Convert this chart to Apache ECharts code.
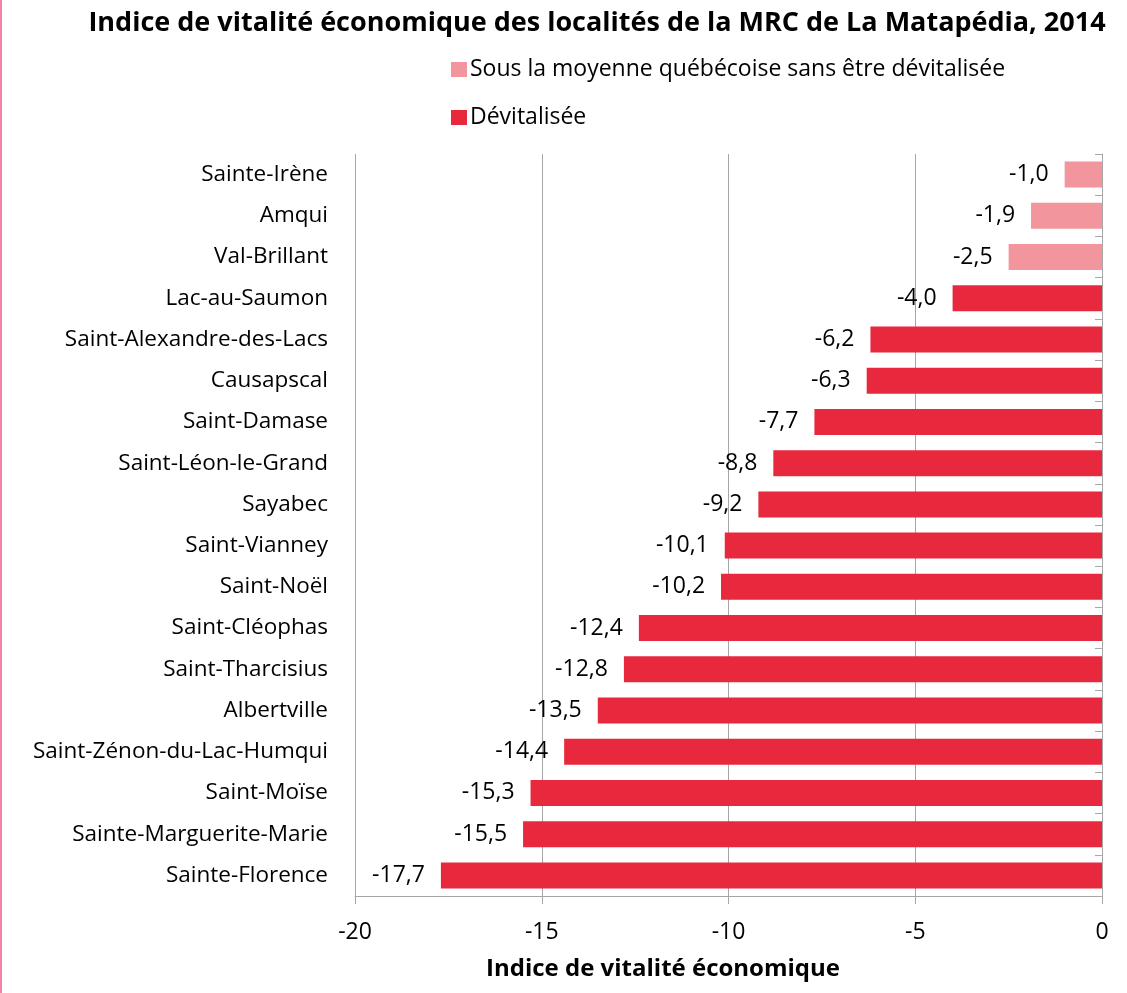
<!DOCTYPE html>
<html>
<head>
<meta charset="utf-8">
<script src="https://cdn.jsdelivr.net/npm/echarts@6/dist/echarts.min.js"></script>
<style>
  html, body { margin: 0; padding: 0; background: #fff; }
  #chart { width: 1127px; height: 993px; box-sizing: border-box; border-left: 2px solid #F084A8; }
</style>
</head>
<body>
<div id="chart"></div>
<script>
const localites = [
  'Sainte-Irène', 'Amqui', 'Val-Brillant', 'Lac-au-Saumon', 'Saint-Alexandre-des-Lacs',
  'Causapscal', 'Saint-Damase', 'Saint-Léon-le-Grand', 'Sayabec', 'Saint-Vianney',
  'Saint-Noël', 'Saint-Cléophas', 'Saint-Tharcisius', 'Albertville', 'Saint-Zénon-du-Lac-Humqui',
  'Saint-Moïse', 'Sainte-Marguerite-Marie', 'Sainte-Florence'
];
// "-" = no bar for that series
const sousMoyenne = [-1.0, -1.9, -2.5, '-', '-', '-', '-', '-', '-', '-', '-', '-', '-', '-', '-', '-', '-', '-'];
const devitalisee = ['-', '-', '-', -4.0, -6.2, -6.3, -7.7, -8.8, -9.2, -10.1, -10.2, -12.4, -12.8, -13.5, -14.4, -15.3, -15.5, -17.7];
const xTicks = [-20, -15, -10, -5, 0];

const FONT = 'Open Sans';
const chart = echarts.init(document.getElementById('chart'));

const fmt = p => p.value.toFixed(1).replace('.', ',');
const labelStyle = {
  show: true,
  position: 'left',
  distance: 16,
  formatter: fmt,
  color: '#000',
  fontFamily: FONT,
  fontSize: 23
};

chart.setOption({
  animation: false,
  textStyle: { fontFamily: FONT },
  title: {
    text: 'Indice de vitalité économique des localités de la MRC de La Matapédia, 2014',
    left: 590,
    textAlign: 'center',
    top: 5,
    textStyle: { fontFamily: FONT, fontSize: 27, fontWeight: 'bold', color: '#000' }
  },
  legend: {
    orient: 'vertical',
    left: 444,
    top: 53,
    itemWidth: 16,
    itemHeight: 15,
    itemGap: 25,
    icon: 'rect',
    textStyle: { fontFamily: FONT, fontSize: 23, color: '#000', padding: [0, 0, 0, -2] },
    data: ['Sous la moyenne québécoise sans être dévitalisée', 'Dévitalisée']
  },
  grid: { left: 353, right: 25, top: 154, bottom: 97, containLabel: false },
  xAxis: {
    type: 'value',
    min: xTicks[0],
    max: xTicks[xTicks.length - 1],
    interval: 5,
    axisLine: { show: true, onZero: false, lineStyle: { color: '#A6A6A6', width: 1 } },
    axisTick: { show: true, length: 8, lineStyle: { color: '#A6A6A6' } },
    axisLabel: { color: '#000', fontFamily: FONT, fontSize: 23, margin: 25 },
    splitLine: { show: true, lineStyle: { color: '#A6A6A6', width: 1 } }
  },
  yAxis: [
    {
      type: 'category',
      inverse: true,
      data: localites,
      position: 'left',
      axisLine: { show: false },
      axisTick: { show: false },
      axisLabel: { color: '#000', fontFamily: FONT, fontSize: 22.5, margin: 27 }
    },
    {
      type: 'category',
      inverse: true,
      data: localites,
      position: 'right',
      axisLine: { show: true, lineStyle: { color: '#A6A6A6', width: 1 } },
      axisTick: { show: true, inside: true, length: 7, lineStyle: { color: '#A6A6A6' } },
      axisLabel: { show: false }
    }
  ],
  series: [
    {
      name: 'Sous la moyenne québécoise sans être dévitalisée',
      type: 'bar',
      stack: 'ivs',
      barWidth: 26,
      data: sousMoyenne,
      itemStyle: { color: '#F2959D' },
      label: labelStyle
    },
    {
      name: 'Dévitalisée',
      type: 'bar',
      stack: 'ivs',
      barWidth: 26,
      data: devitalisee,
      itemStyle: { color: '#E8283C' },
      label: labelStyle
    }
  ],
  graphic: [{
    type: 'text',
    left: 484,
    top: 957,
    style: {
      text: 'Indice de vitalité économique',
      fontFamily: FONT,
      fontSize: 24,
      fontWeight: 'bold',
      fill: '#000'
    }
  }]
});
</script>
</body>
</html>
